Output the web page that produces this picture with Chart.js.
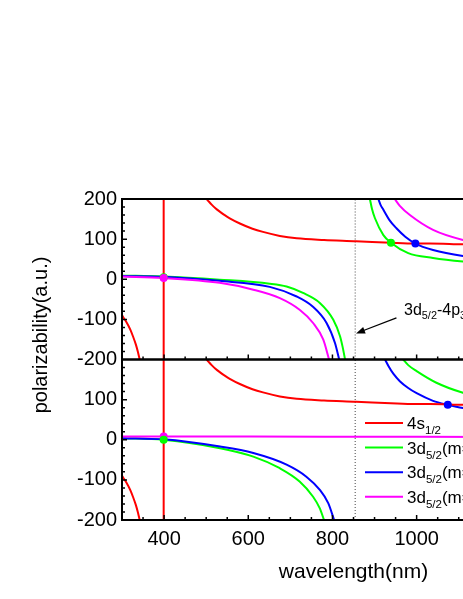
<!DOCTYPE html>
<html>
<head>
<meta charset="utf-8">
<script src="https://cdn.jsdelivr.net/npm/chart.js@4.4.1/dist/chart.umd.min.js"></script>
<style>
  html, body { margin: 0; padding: 0; background: #fff; overflow: hidden; }
  #wrap { width: 700px; height: 599px; }
</style>
</head>
<body>
<div id="wrap"><canvas id="polChart" width="700" height="599"></canvas></div>
<script>
// wavelengths (nm) and polarizabilities (a.u.)
const redLeftWl = [300, 310, 320, 326, 333, 338, 342];
const redLeftVal = [-90, -106, -126, -142, -163, -182, -200];
const redRightWl = [501, 506, 513, 522, 533, 545, 556, 580, 610, 635, 675, 715, 780, 856, 939, 997, 1031, 1110, 1200, 1300, 1400];
const redRightVal = [200, 194, 186, 177, 168, 159, 152, 139, 126, 118, 108, 102, 98, 95, 91, 89, 89, 87, 86, 85, 84];
const redResWl = [399, 399];
const redResVal = [-200, 200];

const topGreenLeftWl = [300, 398, 532, 651, 691, 730, 770, 802, 818, 824, 830];
const topGreenLeftVal = [9, 7, -1, -11, -18, -34, -59, -101, -142, -168, -200];
const topBlueLeftWl = [300, 398, 532, 651, 715, 753, 786, 806, 816];
const topBlueLeftVal = [8, 6, -4, -19, -43, -68, -109, -159, -200];
const topMagLeftWl = [300, 398, 532, 612, 675, 722, 754, 778, 792];
const topMagLeftVal = [7, 3, -9, -26, -47, -76, -109, -150, -200];
const topGreenRightWl = [889, 894, 901, 921, 939, 980, 1039, 1110, 1200, 1300, 1400];
const topGreenRightVal = [200, 175, 152, 110, 91, 65, 53, 44, 37, 32, 29];
const topBlueRightWl = [909, 914, 921, 935, 952, 973, 997, 1039, 1110, 1200, 1300, 1400];
const topBlueRightVal = [200, 186, 173, 148, 127, 106, 89, 73, 58, 48, 42, 38];
const topMagRightWl = [948, 960, 984, 1039, 1110, 1200, 1300, 1400];
const topMagRightVal = [200, 183, 160, 123, 98, 82, 72, 65];

const botGreenLeftWl = [300, 398, 533, 612, 675, 722, 754, 770, 780];
const botGreenLeftVal = [4, 0, -21, -42, -71, -104, -142, -171, -200];
const botBlueLeftWl = [300, 398, 533, 612, 691, 738, 770, 790, 804];
const botBlueLeftVal = [4, 1, -17, -33, -62, -92, -125, -158, -200];
const botMagWl = [300, 600, 900, 1200, 1400];
const botMagVal = [8, 8, 7.5, 7, 7];
const botGreenRightWl = [968, 980, 1000, 1047, 1110, 1200, 1300, 1400];
const botGreenRightVal = [200, 186, 171, 142, 117, 95, 82, 73];
const botBlueRightWl = [925, 933, 945, 960, 980, 1000, 1039, 1074, 1110, 1200, 1300, 1400];
const botBlueRightVal = [200, 184, 164, 146, 129, 116, 97, 87, 79, 68, 60, 55];

// magic wavelength markers
const topGreenDotWl = [399, 939];
const topGreenDotVal = [5, 91];
const topBlueDotWl = [997];
const topBlueDotVal = [89];
const topMagDotWl = [399];
const topMagDotVal = [3];
const botGreenDotWl = [399];
const botGreenDotVal = [0];
const botBlueDotWl = [1074];
const botBlueDotVal = [87];
const botMagDotWl = [399];
const botMagDotVal = [8];

// 3d5/2 - 4p3/2 resonance
const resWl = [854, 854];
const resVal = [-200, 200];

const xTicks = [400, 600, 800, 1000, 1200, 1400];
const yTopTicks = [-200, -100, 0, 100, 200];
const yBotTicks = [-200, -100, 0, 100];

const legendLabels = [
  ["4s", "1/2", ""],
  ["3d", "5/2", "(m=1/2)"],
  ["3d", "5/2", "(m=3/2)"],
  ["3d", "5/2", "(m=5/2)"],
];
const legendColors = ["#ff0000", "#00ff00", "#0000ff", "#ff00ff"];

const FONT = "'Liberation Sans', Arial, sans-serif";
const RED = "#ff0000", GREEN = "#00ff00", BLUE = "#0000ff", MAG = "#ff00ff";

function pts(xs, ys) {
  return xs.map((x, i) => ({ x: x, y: ys[i] }));
}

function curve(xs, ys, color, axis) {
  return {
    data: pts(xs, ys),
    borderColor: color,
    borderWidth: 2,
    pointRadius: 0,
    fill: false,
    cubicInterpolationMode: "monotone",
    yAxisID: axis,
    clip: 0,
  };
}

function dots(xs, ys, color, axis) {
  return {
    data: pts(xs, ys),
    showLine: false,
    pointRadius: 4,
    pointBorderWidth: 0,
    pointBackgroundColor: color,
    borderColor: color,
    yAxisID: axis,
    clip: 0,
  };
}

function dotted(xs, ys, axis) {
  return {
    data: pts(xs, ys),
    borderColor: "#444",
    borderWidth: 1,
    borderDash: [1, 2],
    pointRadius: 0,
    yAxisID: axis,
    clip: 0,
  };
}

// draw text with subscripts: parts = [normal, sub, normal, sub]
function richText(ctx, x, y, parts, size) {
  let cx = x;
  parts.forEach((p, i) => {
    if (!p) return;
    const sub = i % 2 === 1;
    ctx.font = (sub ? size * 0.68 : size) + "px " + FONT;
    ctx.fillText(p, cx, sub ? y + size * 0.3 : y);
    cx += ctx.measureText(p).width;
  });
}

const decor = {
  id: "decor",
  afterDatasetsDraw(chart) {
    const ctx = chart.ctx;
    const x = chart.scales.x;
    ctx.save();
    ctx.strokeStyle = "#000";
    ["yTop", "yBot"].forEach((id) => {
      const y = chart.scales[id];
      ctx.lineWidth = 1.5;
      ctx.beginPath();
      for (let v = -180; v < 200; v += 20) {
        const py = y.getPixelForValue(v);
        const len = v % 100 === 0 ? 5 : 3;
        ctx.moveTo(x.left, py);
        ctx.lineTo(x.left + len, py);
        ctx.moveTo(x.right, py);
        ctx.lineTo(x.right - len, py);
      }
      for (let w = 350; w < 1400; w += 50) {
        const px = x.getPixelForValue(w);
        const len = w % 200 === 0 ? 5 : 3;
        ctx.moveTo(px, y.bottom);
        ctx.lineTo(px, y.bottom - len);
      }
      ctx.stroke();
      ctx.lineWidth = 2;
      ctx.strokeRect(x.left, y.top, x.right - x.left, y.bottom - y.top);
    });

    // annotation arrow pointing at the resonance
    const yt = chart.scales.yTop;
    const tx = x.getPixelForValue(952), ty = yt.getPixelForValue(-96);
    const hx = x.getPixelForValue(856), hy = yt.getPixelForValue(-135);
    const ang = Math.atan2(hy - ty, hx - tx);
    ctx.lineWidth = 1.3;
    ctx.beginPath();
    ctx.moveTo(tx, ty);
    ctx.lineTo(hx - 6 * Math.cos(ang), hy - 6 * Math.sin(ang));
    ctx.stroke();
    ctx.fillStyle = "#000";
    ctx.beginPath();
    ctx.moveTo(hx, hy);
    ctx.lineTo(hx - 9 * Math.cos(ang) + 3.5 * Math.sin(ang), hy - 9 * Math.sin(ang) - 3.5 * Math.cos(ang));
    ctx.lineTo(hx - 9 * Math.cos(ang) - 3.5 * Math.sin(ang), hy - 9 * Math.sin(ang) + 3.5 * Math.cos(ang));
    ctx.closePath();
    ctx.fill();
    ctx.textBaseline = "alphabetic";
    ctx.textAlign = "left";
    richText(ctx, x.getPixelForValue(970), yt.getPixelForValue(-88), ["3d", "5/2", "-4p", "3/2"], 16);
    ctx.restore();
  },
  afterDraw(chart) {
    const ctx = chart.ctx;
    ctx.save();
    // legend
    legendLabels.forEach((lab, i) => {
      const ly = 423 + i * 24.6;
      ctx.strokeStyle = legendColors[i];
      ctx.lineWidth = 2;
      ctx.beginPath();
      ctx.moveTo(365, ly);
      ctx.lineTo(403, ly);
      ctx.stroke();
      ctx.fillStyle = "#000";
      ctx.textBaseline = "alphabetic";
      ctx.textAlign = "left";
      richText(ctx, 407, ly + 6, lab, 17);
    });
    // y axis title
    ctx.translate(41, 335);
    ctx.rotate(-Math.PI / 2);
    ctx.fillStyle = "#000";
    ctx.textAlign = "center";
    ctx.textBaseline = "middle";
    ctx.font = "20px " + FONT;
    ctx.fillText("polarizability(a.u.)", 0, 0);
    ctx.restore();
  },
};

function yScale(ticksList) {
  return {
    type: "linear",
    position: "left",
    stack: "panels",
    stackWeight: 1,
    min: -200,
    max: 200,
    grid: { display: false, drawTicks: false },
    border: { display: false },
    ticks: { color: "#000", font: { size: 20, family: FONT }, padding: 5, autoSkip: false, callback: (v) => String(v) },
    afterBuildTicks: (s) => { s.ticks = ticksList.map((v) => ({ value: v })); },
    afterFit: (s) => { s.width = 122; },
  };
}

const ctx = document.getElementById("polChart").getContext("2d");
const polChart = new Chart(ctx, {
  type: "line",
  data: {
    datasets: [
      dots(topMagDotWl, topMagDotVal, MAG, "yTop"),
      dots(topGreenDotWl, topGreenDotVal, GREEN, "yTop"),
      dots(topBlueDotWl, topBlueDotVal, BLUE, "yTop"),
      dots(botGreenDotWl, botGreenDotVal, GREEN, "yBot"),
      dots(botMagDotWl, botMagDotVal, MAG, "yBot"),
      dots(botBlueDotWl, botBlueDotVal, BLUE, "yBot"),
      curve(redResWl, redResVal, RED, "yTop"),
      curve(redResWl, redResVal, RED, "yBot"),
      curve(redLeftWl, redLeftVal, RED, "yTop"),
      curve(redRightWl, redRightVal, RED, "yTop"),
      curve(redLeftWl, redLeftVal, RED, "yBot"),
      curve(redRightWl, redRightVal, RED, "yBot"),
      curve(topMagLeftWl, topMagLeftVal, MAG, "yTop"),
      curve(topBlueLeftWl, topBlueLeftVal, BLUE, "yTop"),
      curve(topGreenLeftWl, topGreenLeftVal, GREEN, "yTop"),
      curve(topMagRightWl, topMagRightVal, MAG, "yTop"),
      curve(topBlueRightWl, topBlueRightVal, BLUE, "yTop"),
      curve(topGreenRightWl, topGreenRightVal, GREEN, "yTop"),
      curve(botMagWl, botMagVal, MAG, "yBot"),
      curve(botBlueLeftWl, botBlueLeftVal, BLUE, "yBot"),
      curve(botGreenLeftWl, botGreenLeftVal, GREEN, "yBot"),
      curve(botBlueRightWl, botBlueRightVal, BLUE, "yBot"),
      curve(botGreenRightWl, botGreenRightVal, GREEN, "yBot"),
      dotted(resWl, resVal, "yTop"),
      dotted(resWl, resVal, "yBot"),
    ],
  },
  options: {
    responsive: false,
    animation: false,
    events: [],
    layout: { padding: { top: 199, right: 115, left: 0, bottom: 0 } },
    scales: {
      x: {
        type: "linear",
        position: "bottom",
        min: 300,
        max: 1400,
        grid: { display: false, drawTicks: false },
        border: { display: false },
        ticks: { color: "#000", font: { size: 20, family: FONT }, padding: 7, autoSkip: false, maxRotation: 0, callback: (v) => String(v) },
        afterBuildTicks: (s) => { s.ticks = xTicks.map((v) => ({ value: v })); },
        afterFit: (s) => { s.height = 79; },
        title: {
          display: true,
          text: "wavelength(nm)",
          color: "#000",
          font: { size: 21, family: FONT },
          padding: { top: 0, bottom: 14 },
        },
      },
      yBot: yScale(yBotTicks),
      yTop: yScale(yTopTicks),
    },
    plugins: {
      legend: { display: false },
      tooltip: { enabled: false },
    },
  },
  plugins: [decor],
});
</script>
</body>
</html>
